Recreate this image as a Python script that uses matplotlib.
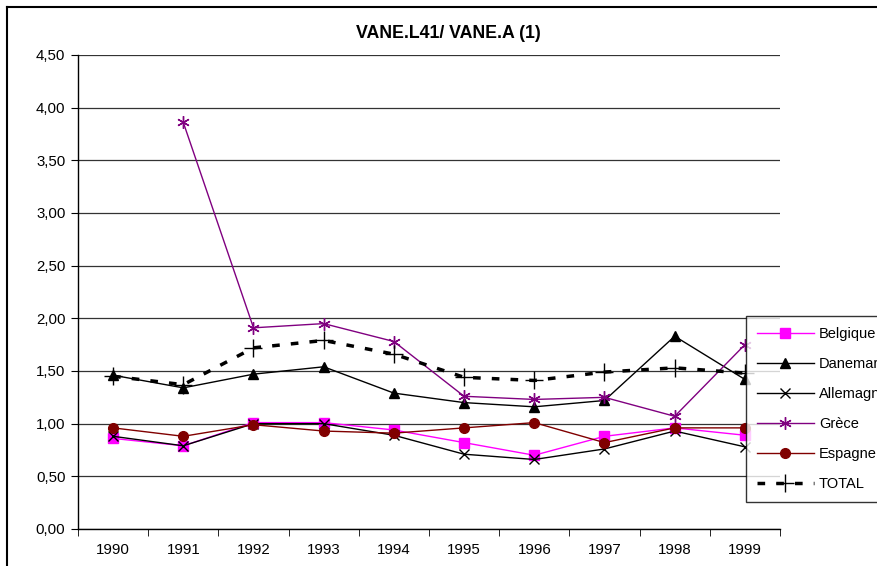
import matplotlib
matplotlib.use('Agg')
import matplotlib.pyplot as plt
import matplotlib.ticker
import numpy as np

plt.rcParams['font.family'] = ['Liberation Sans', 'DejaVu Sans']

years = ['1990', '1991', '1992', '1993', '1994', '1995', '1996', '1997', '1998', '1999']
belgique = [0.86, 0.79, 1.01, 1.01, 0.94, 0.82, 0.70, 0.88, 0.96, 0.89]
danemark = [1.46, 1.34, 1.47, 1.54, 1.29, 1.20, 1.16, 1.22, 1.83, 1.42]
allemagne = [0.88, 0.79, 1.00, 1.00, 0.89, 0.71, 0.66, 0.76, 0.93, 0.78]
grece = [np.nan, 3.86, 1.91, 1.95, 1.78, 1.26, 1.23, 1.25, 1.07, 1.75]
espagne = [0.96, 0.88, 0.99, 0.93, 0.91, 0.96, 1.01, 0.82, 0.96, 0.96]
total = [1.45, 1.37, 1.72, 1.79, 1.66, 1.44, 1.41, 1.49, 1.53, 1.48]

W, H = 878, 566
fig = plt.figure(figsize=(W / 100, H / 100), dpi=100)
ax = fig.add_axes([78 / W, (H - 529) / H, 702 / W, (529 - 55) / H])

x = np.arange(len(years))
ax.plot(x, belgique, color='#FF00FF', marker='s', ms=7, lw=1, label='Belgique')
ax.plot(x, danemark, color='black', marker='^', ms=7, lw=1, label='Danemark')
ax.plot(x, allemagne, color='black', marker='x', ms=7, mew=1, lw=1, label='Allemagne')
ax.plot(x, grece, color='#800080', marker=(6, 2, 0), ms=9, mew=1, lw=1, label='Grèce')
ax.plot(x, espagne, color='#800000', marker='o', ms=7, lw=1, label='Espagne')
ax.plot(x, total, color='black', marker='+', ms=13, mew=1, lw=2.5,
        dashes=(2.2, 3.2), label='TOTAL')

ax.set_xlim(-0.5, len(years) - 0.5)
ax.set_ylim(0, 4.5)
ax.set_yticks(np.arange(0, 4.51, 0.5))
ax.yaxis.set_major_formatter(
    matplotlib.ticker.FuncFormatter(lambda v, p: '{0:.2f}'.format(v).replace('.', ',')))
ax.set_xticks(x)
ax.set_xticklabels(years)
ax.set_xticks(np.arange(-0.5, len(years), 1.0), minor=True)
ax.tick_params(axis='x', which='major', length=0, pad=10, labelsize=10.8)
ax.tick_params(axis='x', which='minor', length=5, direction='out', color='black')
ax.tick_params(axis='y', length=5, direction='out', labelsize=10.8, pad=4)
ax.grid(axis='y', color='#333333', lw=0.9)
ax.set_axisbelow(True)
for s in ('top', 'right'):
    ax.spines[s].set_visible(False)
for s in ('left', 'bottom'):
    ax.spines[s].set_color('black')
    ax.spines[s].set_linewidth(1)

title = fig.text(448 / W, 1 - 33 / H, 'VANE.L41/ VANE.A (1)', ha='center', va='center',
                 fontsize=12.8, fontweight='bold')

# chart area frame
fig.add_artist(plt.Line2D([7 / W, 7 / W], [0, 1 - 7 / H], color='black', lw=1.5))
fig.add_artist(plt.Line2D([7 / W, 1], [1 - 7 / H, 1 - 7 / H], color='black', lw=1.5))

leg = fig.legend(loc='upper left', bbox_to_anchor=(746 / W, 1 - 316 / H),
                 frameon=True, fancybox=False, shadow=False, fontsize=10.5,
                 handlelength=3.9, labelspacing=1.1, borderpad=0.75,
                 handletextpad=0.35, borderaxespad=0)
leg.get_frame().set_edgecolor('black')
leg.get_frame().set_linewidth(1)

fig.savefig('out.png', dpi=100)
